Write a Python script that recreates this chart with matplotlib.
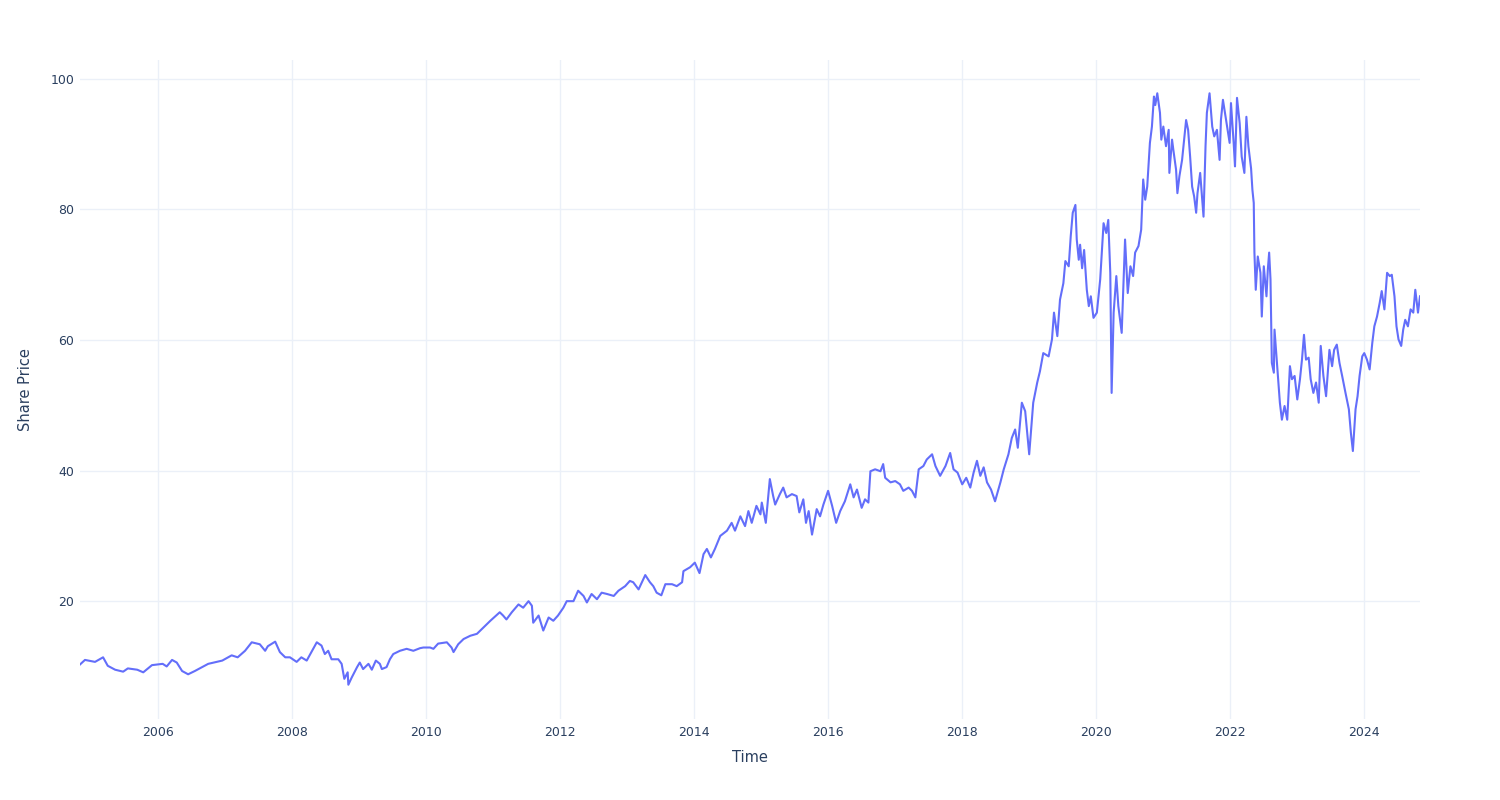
import matplotlib
matplotlib.use("Agg")
import matplotlib.pyplot as plt
import matplotlib.dates as mdates
import pandas as pd

# Decimal-year time stamps and share prices
years = [
    2004.836, 2004.91, 2005.06, 2005.18, 2005.25, 2005.36, 2005.48, 2005.55, 2005.69, 2005.78,
    2005.91, 2006.07, 2006.13, 2006.21, 2006.28, 2006.36, 2006.45, 2006.55, 2006.75, 2006.96,
    2007.10, 2007.19, 2007.30, 2007.40, 2007.52, 2007.60, 2007.64, 2007.75, 2007.82, 2007.90,
    2007.97, 2008.07, 2008.14, 2008.22, 2008.29, 2008.37, 2008.44, 2008.49, 2008.54, 2008.59,
    2008.69, 2008.74, 2008.78, 2008.83, 2008.84, 2008.89, 2008.97, 2009.01, 2009.06, 2009.14,
    2009.19, 2009.25, 2009.31, 2009.34, 2009.41, 2009.46, 2009.51, 2009.61, 2009.71, 2009.81,
    2009.91, 2009.96, 2010.06, 2010.11, 2010.18, 2010.31, 2010.38, 2010.41, 2010.48, 2010.56,
    2010.66, 2010.76, 2010.86, 2010.96, 2011.10, 2011.15, 2011.20, 2011.28, 2011.38, 2011.45,
    2011.53, 2011.58, 2011.60, 2011.68, 2011.75, 2011.83, 2011.90, 2011.97, 2012.05, 2012.10,
    2012.20, 2012.27, 2012.35, 2012.40, 2012.47, 2012.55, 2012.62, 2012.70, 2012.80, 2012.87,
    2012.97, 2013.04, 2013.09, 2013.17, 2013.27, 2013.34, 2013.39, 2013.44, 2013.51, 2013.57,
    2013.67, 2013.74, 2013.82, 2013.84, 2013.94, 2014.01, 2014.08, 2014.14, 2014.19, 2014.25,
    2014.31, 2014.39, 2014.49, 2014.56, 2014.61, 2014.69, 2014.76, 2014.81, 2014.86, 2014.93,
    2014.99, 2015.01, 2015.07, 2015.13, 2015.18, 2015.21, 2015.28, 2015.33, 2015.38, 2015.46,
    2015.53, 2015.57, 2015.63, 2015.67, 2015.71, 2015.76, 2015.83, 2015.88, 2015.93, 2016.00,
    2016.06, 2016.12, 2016.18, 2016.25, 2016.33, 2016.38, 2016.43, 2016.50, 2016.55, 2016.60,
    2016.63, 2016.70, 2016.78, 2016.82, 2016.85, 2016.93, 2017.00, 2017.07, 2017.12, 2017.20,
    2017.25, 2017.30, 2017.35, 2017.42, 2017.47, 2017.55, 2017.60, 2017.67, 2017.75, 2017.82,
    2017.87, 2017.93, 2018.00, 2018.06, 2018.12, 2018.17, 2018.22, 2018.27, 2018.32, 2018.37,
    2018.43, 2018.49, 2018.57, 2018.62, 2018.69, 2018.74, 2018.79, 2018.83, 2018.89, 2018.94,
    2019.00, 2019.06, 2019.12, 2019.16, 2019.21, 2019.29, 2019.34, 2019.37, 2019.42, 2019.46,
    2019.51, 2019.54, 2019.59, 2019.62, 2019.65, 2019.69, 2019.71, 2019.74, 2019.76, 2019.79,
    2019.82, 2019.86, 2019.89, 2019.92, 2019.96, 2020.01, 2020.06, 2020.11, 2020.15, 2020.18,
    2020.21, 2020.23, 2020.26, 2020.30, 2020.33, 2020.38, 2020.43, 2020.47, 2020.51, 2020.55,
    2020.58, 2020.63, 2020.67, 2020.70, 2020.73, 2020.76, 2020.80, 2020.83, 2020.86, 2020.88,
    2020.91, 2020.95, 2020.97, 2021.00, 2021.04, 2021.08, 2021.09, 2021.13, 2021.15, 2021.19,
    2021.21, 2021.24, 2021.28, 2021.31, 2021.34, 2021.37, 2021.40, 2021.43, 2021.46, 2021.49,
    2021.51, 2021.55, 2021.60, 2021.63, 2021.65, 2021.69, 2021.73, 2021.76, 2021.80, 2021.84,
    2021.86, 2021.89, 2021.93, 2021.96, 2021.99, 2022.01, 2022.05, 2022.07, 2022.10, 2022.14,
    2022.17, 2022.21, 2022.24, 2022.27, 2022.31, 2022.33, 2022.35, 2022.36, 2022.38, 2022.41,
    2022.45, 2022.47, 2022.50, 2022.54, 2022.56, 2022.58, 2022.60, 2022.62, 2022.65, 2022.66,
    2022.70, 2022.74, 2022.77, 2022.81, 2022.85, 2022.89, 2022.92, 2022.96, 2023.00, 2023.04,
    2023.07, 2023.10, 2023.13, 2023.17, 2023.20, 2023.24, 2023.28, 2023.32, 2023.35, 2023.39,
    2023.43, 2023.48, 2023.52, 2023.55, 2023.59, 2023.63, 2023.67, 2023.72, 2023.77, 2023.80,
    2023.83, 2023.87, 2023.90, 2023.93, 2023.97, 2024.00, 2024.04, 2024.08, 2024.12, 2024.15,
    2024.19, 2024.23, 2024.26, 2024.30, 2024.34, 2024.38, 2024.41, 2024.45, 2024.48, 2024.51,
    2024.55, 2024.58, 2024.61, 2024.65, 2024.69, 2024.73, 2024.76, 2024.80, 2024.83,
]

prices = [
    10.3, 11.0, 10.7, 11.4, 10.1, 9.5, 9.2, 9.7, 9.5, 9.1,
    10.2, 10.4, 10.0, 11.0, 10.6, 9.3, 8.8, 9.3, 10.4, 10.9,
    11.7, 11.4, 12.4, 13.7, 13.4, 12.4, 13.1, 13.8, 12.2, 11.4,
    11.4, 10.7, 11.4, 10.9, 12.2, 13.7, 13.2, 11.9, 12.4, 11.1,
    11.1, 10.4, 8.1, 9.1, 7.2, 8.3, 9.9, 10.6, 9.6, 10.4,
    9.5, 10.9, 10.4, 9.6, 9.9, 11.1, 11.9, 12.4, 12.7, 12.4,
    12.8, 12.9, 12.9, 12.7, 13.5, 13.7, 12.9, 12.2, 13.4, 14.2,
    14.7, 15.0, 16.0, 17.0, 18.3, 17.8, 17.2, 18.3, 19.5, 19.0,
    20.0, 19.3, 16.7, 17.8, 15.5, 17.5, 17.0, 17.8, 19.0, 20.0,
    20.0, 21.6, 20.8, 19.8, 21.1, 20.3, 21.3, 21.1, 20.8, 21.6,
    22.3, 23.1, 22.9, 21.8, 24.0, 22.9, 22.3, 21.3, 20.9, 22.6,
    22.6, 22.3, 22.9, 24.6, 25.2, 25.9, 24.3, 27.2, 28.0, 26.7,
    28.0, 30.0, 30.8, 32.0, 30.8, 33.0, 31.5, 33.8, 32.0, 34.6,
    33.3, 35.1, 32.0, 38.7, 36.1, 34.8, 36.4, 37.4, 35.9, 36.4,
    36.1, 33.6, 35.6, 32.0, 33.8, 30.2, 34.1, 33.0, 34.8, 36.9,
    34.6, 32.0, 33.8, 35.3, 37.9, 35.9, 37.1, 34.3, 35.6, 35.1,
    39.9, 40.2, 39.9, 41.0, 38.9, 38.2, 38.4, 37.9, 36.9, 37.4,
    36.9, 35.9, 40.2, 40.7, 41.7, 42.5, 40.7, 39.2, 40.7, 42.7,
    40.2, 39.7, 37.9, 38.9, 37.4, 39.7, 41.5, 39.2, 40.5, 38.2,
    37.1, 35.3, 38.2, 40.2, 42.5, 45.0, 46.3, 43.5, 50.4, 49.1,
    42.5, 50.4, 53.5, 55.2, 58.0, 57.5, 60.1, 64.2, 60.6, 66.2,
    68.7, 72.1, 71.3, 75.9, 79.5, 80.7, 75.4, 72.3, 74.6, 71.0,
    73.8, 67.7, 65.2, 66.7, 63.4, 64.2, 69.3, 77.9, 76.4, 78.4,
    70.3, 51.9, 64.2, 69.8, 65.2, 61.1, 75.4, 67.2, 71.3, 69.8,
    73.4, 74.4, 76.9, 84.6, 81.5, 83.5, 90.2, 92.7, 97.3, 96.0,
    97.8, 94.8, 90.7, 92.7, 89.7, 92.2, 85.6, 90.7, 89.1, 86.1,
    82.5, 85.1, 87.6, 90.7, 93.7, 92.2, 88.1, 83.5, 82.0, 79.5,
    82.5, 85.6, 78.9, 89.7, 94.8, 97.8, 92.7, 91.2, 92.2, 87.6,
    93.7, 96.8, 94.2, 92.2, 90.2, 96.3, 90.2, 86.6, 97.1, 93.2,
    88.1, 85.6, 94.2, 89.7, 86.3, 83.0, 81.0, 73.4, 67.7, 72.8,
    70.3, 63.6, 71.3, 66.7, 70.8, 73.4, 69.3, 56.5, 55.0, 61.6,
    56.0, 50.4, 47.8, 49.9, 47.8, 56.0, 54.0, 54.5, 50.9, 54.0,
    57.0, 60.8, 57.0, 57.3, 54.0, 51.9, 53.5, 50.4, 59.1, 54.5,
    51.4, 58.5, 56.0, 58.5, 59.3, 56.5, 54.5, 51.9, 49.4, 45.8,
    43.0, 49.4, 51.4, 54.5, 57.5, 58.0, 57.0, 55.5, 59.6, 62.1,
    63.6, 65.7, 67.5, 64.7, 70.3, 69.8, 70.0, 66.7, 62.1, 60.1,
    59.1, 61.6, 63.1, 62.1, 64.7, 64.2, 67.7, 64.2, 66.7,
]

x_title = "Time"
y_title = "Share Price"
y_ticks = [20, 40, 60, 80, 100]


def to_date(y):
    yr = int(y)
    start = pd.Timestamp(yr, 1, 1)
    end = pd.Timestamp(yr + 1, 1, 1)
    return start + (end - start) * (y - yr)


dates = [to_date(y) for y in years]

plt.rcParams['font.family'] = ['DejaVu Sans']
TEXT = '#2a3f5f'
GRID = '#ebf0f8'

fig = plt.figure(figsize=(15, 8), dpi=100)
ax = fig.add_axes([80 / 1500, 1 - 719 / 800, 1340 / 1500, 659 / 800])

ax.plot(dates, prices, color='#636efa', linewidth=1.5, solid_joinstyle='round')

ax.set_xlim(dates[0], dates[-1])
ax.set_ylim(1.95, 102.9)
ax.set_yticks(y_ticks)
ax.xaxis.set_major_locator(mdates.YearLocator(2))
ax.xaxis.set_major_formatter(mdates.DateFormatter('%Y'))

ax.grid(True, color=GRID, linewidth=1.0)
ax.set_axisbelow(True)
for s in ax.spines.values():
    s.set_visible(False)
ax.tick_params(axis='both', length=0, labelsize=9, labelcolor=TEXT)
ax.tick_params(axis='x', pad=5)
ax.tick_params(axis='y', pad=4)

ax.set_xlabel(x_title, fontsize=10.5, color=TEXT, labelpad=8)
ax.set_ylabel(y_title, fontsize=10.5, color=TEXT, labelpad=13)

fig.savefig('out.png', dpi=100, facecolor='white')
